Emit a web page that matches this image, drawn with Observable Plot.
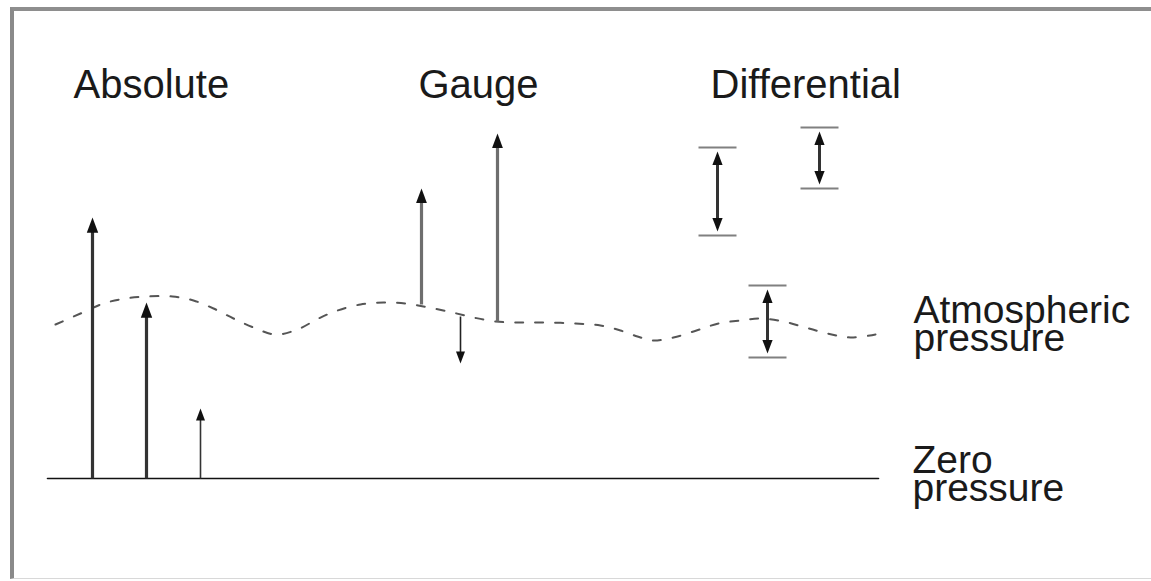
<!DOCTYPE html>
<html><head><meta charset="utf-8">
<script src="https://cdn.jsdelivr.net/npm/d3@7"></script>
<script src="https://cdn.jsdelivr.net/npm/@observablehq/plot@0.6"></script>
<style>
html,body{margin:0;padding:0;background:#fff;}
#wrap{position:relative;width:1151px;height:581px;overflow:hidden;}
#chart{position:absolute;left:0;top:0;}
#frame{position:absolute;left:10px;top:7px;right:-10px;bottom:2px;border-top:4px solid #8e8e8e;border-left:4px solid #8a8a8a;border-bottom:1px solid #d8d8d8;pointer-events:none;}
</style></head><body><div id="wrap"><div id="chart"></div><div id="frame"></div></div>
<script>
// Panel headings
const panelTitles = ["Absolute", "Gauge", "Differential"];
const panelTitleX = [73, 418, 710];
const panelTitleP = [381, 381, 381];
// Line labels
const lineLabels = ["Atmospheric\npressure", "Zero\npressure"];
const lineLabelX = [913, 912];
const lineLabelP = [128, -22];
// Zero pressure line
const zeroX = [47, 878];
const zeroP = [0, 0];
// Atmospheric pressure (wavy)
const atmX = [55,80,103,125,147,172,193,213,233,253,275,297,318,337,360,383,405,428,452,473,495,520,545,575,600,620,637,652,673,696,718,740,760,783,805,827,850,875];
const atmP = [154,165,175,180,182,182,178,170,160,151,144,149,160,168,174,176,175,171,166,161,157,156,156,155,153,148,142,138,141,148,155,158,160,157,151,145,141,144];
// Absolute arrows (from zero)
const absX = [92, 146, 200];
const absTop = [261, 176, 70];
// Gauge arrows (from atmospheric)
const gaugeX = [421, 497, 460];
const gaugeBase = [174, 157, 162];
const gaugeTip = [290, 345, 115];
// Differential double arrows
const diffX = [717, 819, 767];
const diffLow = [243, 290, 121];
const diffHigh = [331, 351, 193];

const headUp = {draw(ctx, size){const r=Math.sqrt(size/Math.PI);ctx.moveTo(0,0);ctx.lineTo(r*0.6,r*1.6);ctx.lineTo(-r*0.6,r*1.6);ctx.closePath();}};
const headDown = {draw(ctx, size){const r=Math.sqrt(size/Math.PI);ctx.moveTo(0,0);ctx.lineTo(r*0.6,-r*1.6);ctx.lineTo(-r*0.6,-r*1.6);ctx.closePath();}};

const zero = zeroX.map((x,i)=>({x, p: zeroP[i]}));
const atm = atmX.map((x,i)=>({x, p: atmP[i]}));
const abs = absX.map((x,i)=>({x, top: absTop[i], i}));
const gauge = gaugeX.map((x,i)=>({x, base: gaugeBase[i], tip: gaugeTip[i], i}));
const diff = diffX.map((x,i)=>({x, lo: diffLow[i], hi: diffHigh[i]}));
const titles = panelTitles.map((t,i)=>({t, x: panelTitleX[i], p: panelTitleP[i]}));
const labels = lineLabels.map((t,i)=>({t, x: lineLabelX[i], p: lineLabelP[i]}));

const font = "'Liberation Sans', Arial, Helvetica, sans-serif";
const gaugeUp = gauge.filter(d => d.tip > d.base);
const gaugeDown = gauge.filter(d => d.tip < d.base);

const chart = Plot.plot({
  width: 1151, height: 581,
  marginTop: 0, marginRight: 0, marginBottom: 0, marginLeft: 0,
  x: {domain: [0, 1151], axis: null},
  y: {domain: [-103, 478], axis: null},
  style: {background: "transparent", fontFamily: font},
  marks: [
    Plot.line(zero, {x: "x", y: "p", stroke: "#111", strokeWidth: 1.6}),
    Plot.line(atm, {x: "x", y: "p", curve: "catmull-rom", stroke: "#555", strokeWidth: 2, strokeDasharray: "8,12"}),
    // Absolute
    Plot.link(abs, {x1: "x", x2: "x", y1: 0, y2: d => d.top - 10, stroke: "#333", strokeWidth: d => d.i < 2 ? 3.2 : 1.6}),
    Plot.dot(abs.slice(0,2), {x: "x", y: "top", symbol: headUp, r: 9.5, fill: "#111", stroke: "none"}),
    Plot.dot(abs.slice(2), {x: "x", y: "top", symbol: headUp, r: 7.5, fill: "#111", stroke: "none"}),
    // Gauge
    Plot.link(gaugeUp, {x1: "x", x2: "x", y1: "base", y2: d => d.tip - 10, stroke: "#6e6e6e", strokeWidth: 3.2}),
    Plot.dot(gaugeUp, {x: "x", y: "tip", symbol: headUp, r: 9, fill: "#111", stroke: "none"}),
    Plot.link(gaugeDown, {x1: "x", x2: "x", y1: "base", y2: d => d.tip + 10, stroke: "#222", strokeWidth: 1.6}),
    Plot.dot(gaugeDown, {x: "x", y: "tip", symbol: headDown, r: 7.5, fill: "#111", stroke: "none"}),
    // Differential
    Plot.link(diff, {x1: d => d.x - 19, x2: d => d.x + 19, y1: "hi", y2: "hi", stroke: "#808080", strokeWidth: 2}),
    Plot.link(diff, {x1: d => d.x - 19, x2: d => d.x + 19, y1: "lo", y2: "lo", stroke: "#808080", strokeWidth: 2}),
    Plot.link(diff, {x1: "x", x2: "x", y1: d => d.lo + 8, y2: d => d.hi - 8, stroke: "#333", strokeWidth: 3}),
    Plot.dot(diff, {x: "x", y: d => d.hi - 4, symbol: headUp, r: 8.5, fill: "#111", stroke: "none"}),
    Plot.dot(diff, {x: "x", y: d => d.lo + 4, symbol: headDown, r: 8.5, fill: "#111", stroke: "none"}),
    // Text
    Plot.text(titles, {x: "x", y: "p", text: "t", textAnchor: "start", lineAnchor: "bottom", fontSize: 40, fill: "#1a1a1a", fontFamily: font}),
    Plot.text(labels, {x: "x", y: "p", text: "t", textAnchor: "start", lineAnchor: "bottom", lineHeight: 0.7, fontSize: 39, fill: "#1a1a1a", fontFamily: font})
  ]
});
document.getElementById("chart").appendChild(chart);
</script></body></html>
